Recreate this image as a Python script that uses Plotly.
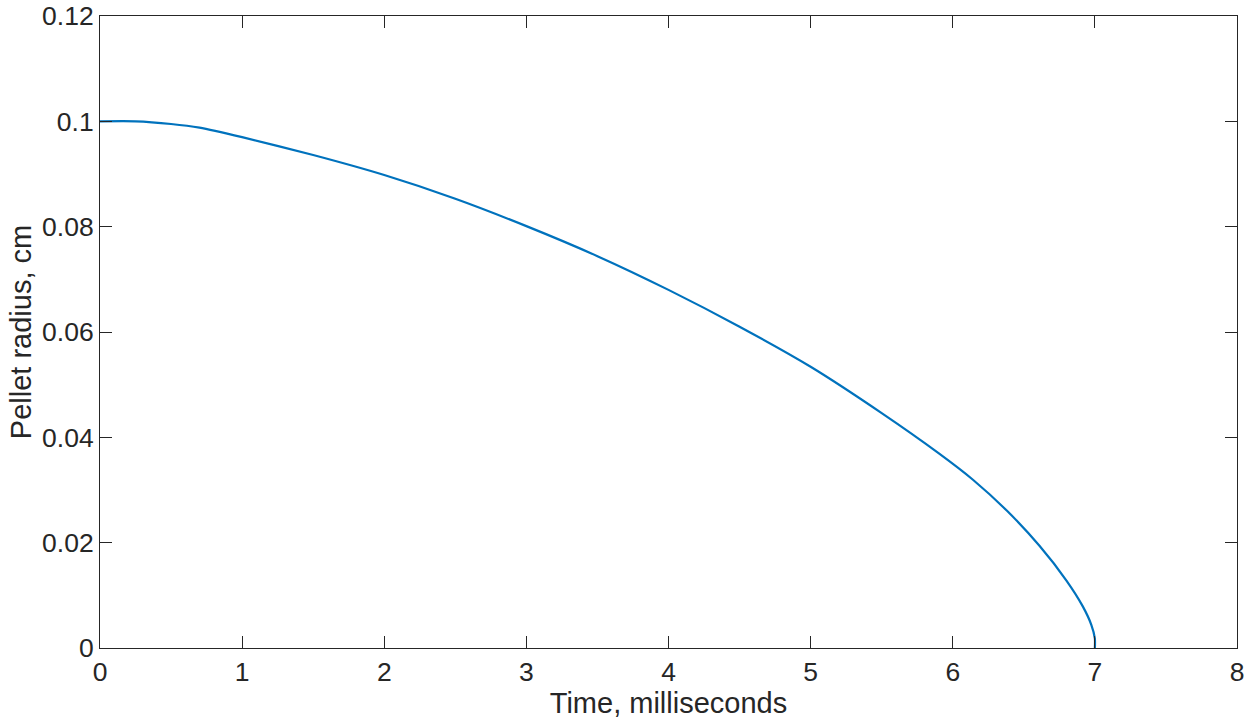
import plotly.graph_objects as go

# Data
time_ms = [0.0, 0.25, 0.5, 0.7, 1.0, 1.5, 2.0, 2.5, 3.0, 3.5, 4.0, 4.5, 5.0, 5.5,
           5.9, 6.14, 6.38, 6.61, 6.8, 6.915, 6.975, 7.0, 7.0]
radius_cm = [0.1, 0.1, 0.0995, 0.0988, 0.0970, 0.0936, 0.0898, 0.0853, 0.0801, 0.0744,
             0.0680, 0.0610, 0.0534, 0.0446, 0.0370, 0.0320, 0.0261, 0.0194, 0.0128,
             0.0079, 0.0044, 0.0018, 0.0]

x_ticks = [0, 1, 2, 3, 4, 5, 6, 7, 8]
y_ticks = [0, 0.02, 0.04, 0.06, 0.08, 0.1, 0.12]
y_tick_text = ["0", "0.02", "0.04", "0.06", "0.08", "0.1", "0.12"]

axis_color = "#262626"
font_family = "Liberation Sans, Arial, Helvetica, sans-serif"

fig = go.Figure()
fig.add_trace(go.Scatter(
    x=time_ms, y=radius_cm, mode="lines",
    line=dict(color="#0072BD", width=2.2, shape="spline", smoothing=0.6),
    showlegend=False,
))

common = dict(
    showline=True, linecolor=axis_color, linewidth=1, mirror="ticks",
    ticks="inside", ticklen=12, tickcolor=axis_color, tickwidth=1,
    showgrid=False, zeroline=False, automargin=False,
    tickfont=dict(family=font_family, size=26.5, color=axis_color),
)

fig.update_xaxes(
    range=[0, 8], tickvals=x_ticks,
    title=dict(text="Time, milliseconds", font=dict(family=font_family, size=29, color=axis_color), standoff=2),
    **common,
)
fig.update_yaxes(
    range=[0, 0.12], tickvals=y_ticks, ticktext=y_tick_text,
    title=dict(text="Pellet radius, cm", font=dict(family=font_family, size=29, color=axis_color), standoff=1),
    **common,
)

fig.update_layout(
    width=1249, height=725,
    margin=dict(l=100, r=12, t=16, b=77),
    plot_bgcolor="white", paper_bgcolor="white",
)

fig.write_html(
    "out.html",
    config={"displayModeBar": False},
    post_script="document.body.style.margin='0';document.body.style.overflow='hidden';",
)
